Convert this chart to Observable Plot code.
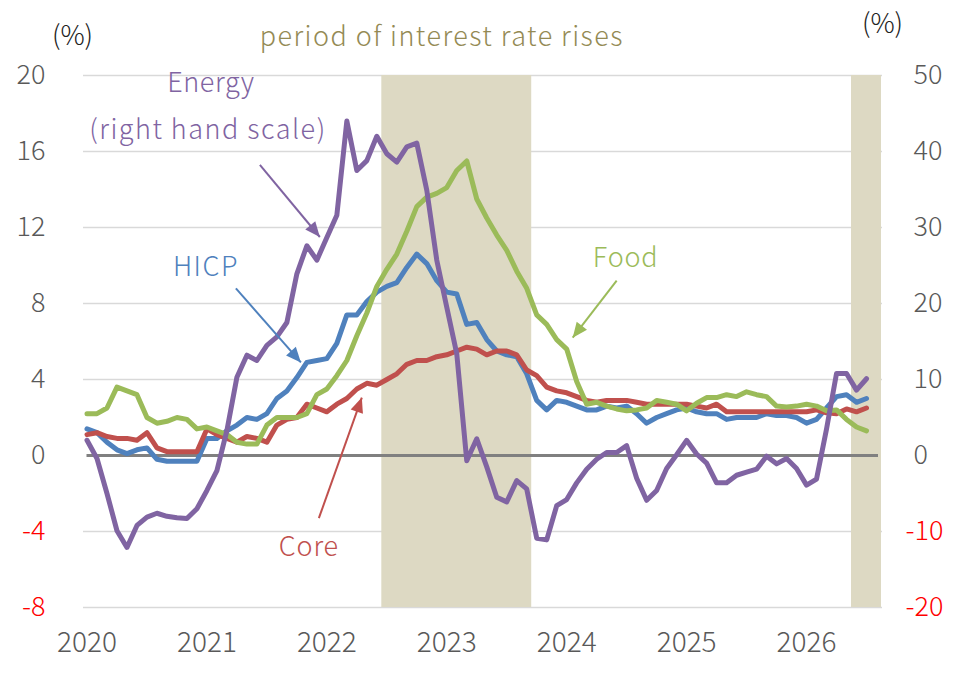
<!DOCTYPE html>
<html><head><meta charset="utf-8">
<script src="https://cdn.jsdelivr.net/npm/d3@7"></script>
<script src="https://cdn.jsdelivr.net/npm/@observablehq/plot@0.6"></script>
<style>html,body{margin:0;padding:0;background:#fff;}</style>
</head><body><div id="chart"></div>
<script>
// ---- data (monthly, Jan 2020 – Jul 2026) ----
const firstYear = 2020;
const yearLabels = ["2020","2021","2022","2023","2024","2025","2026"];
const leftTicks = [-8,-4,0,4,8,12,16,20];
const rightTicks = [-20,-10,0,10,20,30,40,50];

const hicp = [
  1.4, 1.2, 0.7, 0.3, 0.1, 0.3, 0.4, -0.2, -0.3, -0.3, -0.3, -0.3,
  0.9, 0.9, 1.3, 1.6, 2.0, 1.9, 2.2, 3.0, 3.4, 4.1, 4.9, 5.0,
  5.1, 5.9, 7.4, 7.4, 8.1, 8.6, 8.9, 9.1, 9.9, 10.6, 10.1, 9.2,
  8.6, 8.5, 6.9, 7.0, 6.1, 5.5, 5.3, 5.2, 4.3, 2.9, 2.4, 2.9,
  2.8, 2.6, 2.4, 2.4, 2.6, 2.5, 2.6, 2.2, 1.7, 2.0, 2.2, 2.4,
  2.5, 2.3, 2.2, 2.2, 1.9, 2.0, 2.0, 2.0, 2.2, 2.1, 2.1, 2.0,
  1.7, 1.9, 2.5, 3.1, 3.2, 2.8, 3.0
];
const core = [
  1.1, 1.2, 1.0, 0.9, 0.9, 0.8, 1.2, 0.4, 0.2, 0.2, 0.2, 0.2,
  1.4, 1.1, 0.9, 0.7, 1.0, 0.9, 0.7, 1.6, 1.9, 2.0, 2.7, 2.5,
  2.3, 2.7, 3.0, 3.5, 3.8, 3.7, 4.0, 4.3, 4.8, 5.0, 5.0, 5.2,
  5.3, 5.5, 5.7, 5.6, 5.3, 5.5, 5.5, 5.3, 4.5, 4.2, 3.6, 3.4,
  3.3, 3.1, 2.9, 2.8, 2.9, 2.9, 2.9, 2.8, 2.7, 2.7, 2.7, 2.7,
  2.7, 2.6, 2.5, 2.7, 2.3, 2.3, 2.3, 2.3, 2.3, 2.3, 2.3, 2.3,
  2.3, 2.4, 2.25, 2.2, 2.45, 2.3, 2.5
];
const food = [
  2.2, 2.2, 2.5, 3.6, 3.4, 3.2, 2.0, 1.7, 1.8, 2.0, 1.9, 1.4,
  1.5, 1.3, 1.1, 0.7, 0.6, 0.6, 1.6, 2.0, 2.0, 2.0, 2.2, 3.2,
  3.5, 4.2, 5.0, 6.3, 7.5, 8.9, 9.8, 10.6, 11.8, 13.1, 13.6, 13.8,
  14.1, 15.0, 15.5, 13.5, 12.5, 11.6, 10.8, 9.7, 8.8, 7.4, 6.9, 6.1,
  5.6, 3.9, 2.7, 2.8, 2.6, 2.45, 2.35, 2.4, 2.5, 2.9, 2.8, 2.7,
  2.35, 2.75, 3.05, 3.05, 3.2, 3.1, 3.35, 3.2, 3.1, 2.6, 2.55, 2.6,
  2.7, 2.6, 2.35, 2.4, 1.9, 1.5, 1.3
];
// energy is read on the right-hand scale
const energy = [
  2.0, -0.4, -5.0, -9.9, -12.1, -9.2, -8.1, -7.6, -8.0, -8.2, -8.3, -7.0,
  -4.6, -2.0, 3.3, 10.3, 13.2, 12.5, 14.5, 15.6, 17.5, 23.9, 27.6, 25.7,
  28.7, 31.6, 44.0, 37.5, 38.8, 42.0, 39.7, 38.6, 40.6, 41.1, 34.9, 25.7,
  19.5, 13.4, -0.7, 2.2, -1.5, -5.5, -6.1, -3.3, -4.4, -10.9, -11.1, -6.6,
  -5.8, -3.6, -1.8, -0.5, 0.4, 0.4, 1.3, -3.0, -5.9, -4.6, -1.7, 0.1,
  2.0, 0.2, -1.0, -3.6, -3.6, -2.6, -2.2, -1.8, -0.1, -1.1, -0.4, -1.7,
  -3.9, -3.1, 3.5, 10.8, 10.8, 8.6, 10.1
];
// shaded "period of interest rate rises" (first month, last month)
const periods = [
  {from: "2022-07", to: "2023-09"},
  {from: "2026-06", to: "2026-08"}
];
// annotation labels and arrows (in data units: month index, left-scale %)
const labels = [
  {text: "Energy", x: 12.4, y: 19.6, color: "#8064A2", spacing: "0.6px"},
  {text: "(right hand scale)", x: 12.1, y: 17.1, color: "#8064A2", spacing: "1.5px"},
  {text: "HICP", x: 11.9, y: 9.9, color: "#4F81BD", spacing: "1.5px"},
  {text: "Food", x: 53.9, y: 10.4, color: "#9BBB59", spacing: "0.8px"},
  {text: "Core", x: 22.2, y: -4.85, color: "#C0504D", spacing: "0.8px"}
];
const arrows = [
  {x1: 17.3, y1: 15.3, x2: 23.3, y2: 11.5, color: "#8064A2"},
  {x1: 14.9, y1: 8.8, x2: 21.4, y2: 4.9, color: "#4F81BD"},
  {x1: 53.0, y1: 9.2, x2: 48.6, y2: 6.2, color: "#9BBB59"},
  {x1: 23.2, y1: -3.3, x2: 27.5, y2: 3.05, color: "#C0504D"}
];

// ---- helpers ----
const monthIndex = s => { const [y, m] = s.split("-").map(Number); return (y - firstYear) * 12 + (m - 1); };
const ratio = leftTicks[leftTicks.length - 1] / rightTicks[rightTicks.length - 1]; // right -> left
const yMin = leftTicks[0], yMax = leftTicks[leftTicks.length - 1];
const n = hicp.length;
const labelGray = "#595959";
const FONT = "'Noto Sans CJK JP', 'Noto Sans', sans-serif";
const textStyle = {fontSize: 27, fontWeight: 300};

function triMarker(color, context) {
  const doc = (context && context.document) || document;
  const ns = "http://www.w3.org/2000/svg";
  const m = doc.createElementNS(ns, "marker");
  m.setAttribute("viewBox", "-16 -8 17 16");
  m.setAttribute("markerWidth", "17");
  m.setAttribute("markerHeight", "16");
  m.setAttribute("markerUnits", "userSpaceOnUse");
  m.setAttribute("orient", "auto");
  m.setAttribute("refX", "0");
  m.setAttribute("refY", "0");
  const p = doc.createElementNS(ns, "path");
  p.setAttribute("d", "M-15,-6.5L0,0L-15,6.5Z");
  p.setAttribute("fill", color);
  p.setAttribute("stroke", "none");
  m.appendChild(p);
  return m;
}

function build(marker) {
  return Plot.plot({
    width: 965,
    height: 679,
    marginLeft: 83,
    marginRight: 83,
    marginTop: 75,
    marginBottom: 72,
    style: {background: "#fff", fontFamily: FONT, overflow: "visible"},
    x: {type: "linear", domain: [-0.35, 79.6], axis: null},
    y: {domain: [yMin, yMax], axis: null},
    marks: [
      Plot.ruleY(leftTicks.filter(d => d !== 0), {stroke: "#d9d9d9", strokeWidth: 1.5}),
      Plot.rect(periods, {
        x1: d => monthIndex(d.from) - 0.5, x2: d => monthIndex(d.to) + 0.5,
        y1: yMin, y2: yMax, fill: "#DDD9C3"
      }),
      Plot.ruleY([0], {x1: 0, x2: n + 0.2, stroke: "#808080", strokeWidth: 3}),
      Plot.line(hicp, {x: (d, i) => i, y: d => d, stroke: "#4F81BD", strokeWidth: 5, strokeLinejoin: "round"}),
      Plot.line(core, {x: (d, i) => i, y: d => d, stroke: "#C0504D", strokeWidth: 5, strokeLinejoin: "round"}),
      Plot.line(food, {x: (d, i) => i, y: d => d, stroke: "#9BBB59", strokeWidth: 5, strokeLinejoin: "round"}),
      Plot.line(energy, {x: (d, i) => i, y: d => d * ratio, stroke: "#8064A2", strokeWidth: 5, strokeLinejoin: "round"}),
      // annotation arrows
      ...arrows.map(a => Plot.link([a], {x1: "x1", y1: "y1", x2: "x2", y2: "y2", stroke: a.color, strokeWidth: 2, markerEnd: marker})),
      // annotation labels
      ...labels.map(l => Plot.text([l], {x: "x", y: "y", text: "text", fill: l.color, ariaLabel: d => "spaced " + d.spacing, ...textStyle})),
      // left axis labels
      Plot.text(leftTicks.filter(d => d >= 0), {y: d => d, text: d => String(d), frameAnchor: "left", dx: -38, textAnchor: "end", fill: labelGray, ...textStyle}),
      Plot.text(leftTicks.filter(d => d < 0), {y: d => d, text: d => String(d), frameAnchor: "left", dx: -38, textAnchor: "end", fill: "#FF0000", ...textStyle}),
      // right axis labels (energy)
      Plot.text(rightTicks.filter(d => d >= 0), {y: d => d * ratio, text: d => String(d), frameAnchor: "right", dx: 31, textAnchor: "start", fill: labelGray, ...textStyle}),
      Plot.text(rightTicks.filter(d => d < 0), {y: d => d * ratio, text: d => String(d), frameAnchor: "right", dx: 23, textAnchor: "start", fill: "#FF0000", ...textStyle}),
      // x axis year labels
      Plot.text(yearLabels, {x: (d, i) => i * 12, text: d => d, frameAnchor: "bottom", lineAnchor: "middle", dy: 36, fill: labelGray, ...textStyle, fontSize: 28}),
      // units
      Plot.text(["(%)"], {frameAnchor: "top-left", textAnchor: "middle", lineAnchor: "middle", dx: -11, dy: -39, text: d => d, fill: "#222", ...textStyle}),
      Plot.text(["(%)"], {frameAnchor: "top-right", textAnchor: "middle", lineAnchor: "middle", dx: 0, dy: -51, text: d => d, fill: "#222", ...textStyle}),
      // shaded period title
      Plot.text(["period of interest rate rises"], {
        x: () => (monthIndex(periods[0].from) + monthIndex(periods[0].to)) / 2,
        text: d => d, frameAnchor: "top", lineAnchor: "middle", dy: -38, dx: -15, fill: "#948A54",
        ariaLabel: () => "spaced 1.45px", ...textStyle
      })
    ]
  });
}

let chart;
try { chart = build(triMarker); } catch (e) { chart = build("arrow"); }
d3.select(chart).selectAll("[aria-label^='spaced']").each(function () {
  const sp = this.getAttribute("aria-label").split(" ")[1];
  const sel = d3.select(this);
  sel.style("letter-spacing", sp);
  sel.selectAll("text").style("letter-spacing", sp);
});
document.getElementById("chart").appendChild(chart);
</script>
</body></html>
